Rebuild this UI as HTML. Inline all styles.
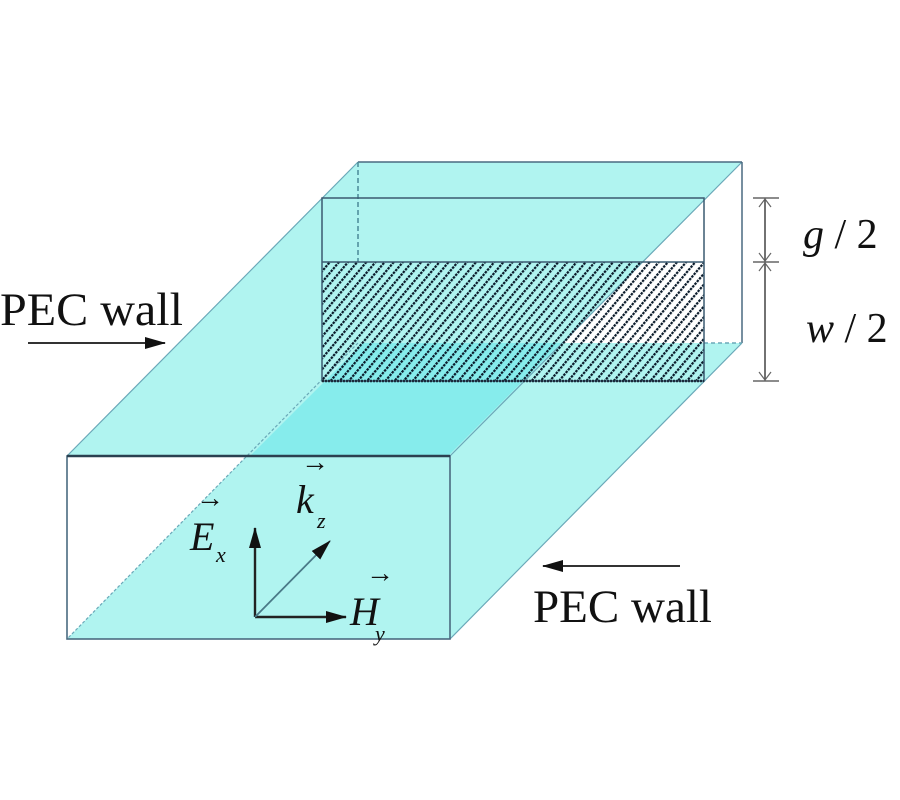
<!DOCTYPE html>
<html><head><style>
html,body{margin:0;padding:0;background:#fff;}
svg{display:block;}
text{font-family:"Liberation Serif",serif;fill:#111;}
</style></head><body>
<svg width="900" height="800" viewBox="0 0 900 800" xmlns="http://www.w3.org/2000/svg">
<defs>
<pattern id="hatch" patternUnits="userSpaceOnUse" width="7" height="7" patternTransform="rotate(40)">
<line x1="1" y1="0" x2="1" y2="7" stroke="#0a1a2a" stroke-width="2.4" stroke-dasharray="2.5 1"/>
</pattern>
<marker id="ah" markerWidth="22" markerHeight="16" refX="20" refY="8" orient="auto" markerUnits="userSpaceOnUse">
<path d="M0,2 L21,8 L0,14 z" fill="#111"/>
</marker>
</defs>
<polygon points="358,162 742,162 450,456 67,456" fill="#b0f4f0"/>
<polygon points="358,343 742,343 450,639 67,639" fill="#b0f4f0"/>
<polygon points="363,343 561,343 448,456 250,456" fill="#86ecec"/>
<line x1="358" y1="162" x2="67" y2="456" stroke="#6aa8b8" stroke-width="1.2"/>
<line x1="742" y1="162" x2="450" y2="456" stroke="#6aa8b8" stroke-width="1.2"/>
<line x1="742" y1="343" x2="450" y2="639" stroke="#6aa8b8" stroke-width="1.2"/>
<line x1="358" y1="343" x2="67" y2="639" stroke="#6aa8b8" stroke-width="1.2" stroke-dasharray="3 2"/>
<line x1="358" y1="162" x2="742" y2="162" stroke="#4a6a80" stroke-width="1.5"/>
<line x1="742" y1="162" x2="742" y2="343" stroke="#4a6a80" stroke-width="1.5"/>
<line x1="704" y1="343" x2="742" y2="343" stroke="#6aa8b8" stroke-width="1.5" stroke-dasharray="4 3"/>
<line x1="358" y1="162" x2="358" y2="262" stroke="#4a8a98" stroke-width="1.5" stroke-dasharray="5 3"/>
<rect x="322" y="262" width="382" height="119" fill="url(#hatch)"/>
<rect x="322" y="198" width="382" height="183" fill="none" stroke="#3a5a70" stroke-width="1.5"/>
<line x1="322" y1="262" x2="704" y2="262" stroke="#3a5a70" stroke-width="1.5"/>
<line x1="322" y1="381" x2="704" y2="381" stroke="#1a2a3a" stroke-width="2.5" stroke-dasharray="2 1"/>
<rect x="67" y="456" width="383" height="183" fill="none" stroke="#4a6a80" stroke-width="1.6"/>
<line x1="67" y1="456" x2="450" y2="456" stroke="#2a4050" stroke-width="2.5"/>
<line x1="765" y1="198" x2="765" y2="381" stroke="#444" stroke-width="1.5"/>
<line x1="753" y1="198" x2="779" y2="198" stroke="#666" stroke-width="1.5"/>
<line x1="753" y1="262" x2="779" y2="262" stroke="#666" stroke-width="1.5"/>
<line x1="753" y1="381" x2="779" y2="381" stroke="#666" stroke-width="1.5"/>
<path d="M759,207 L765,199 L771,207 M759,253 L765,261 L771,253 M759,271 L765,263 L771,271 M759,372 L765,380 L771,372" fill="none" stroke="#666" stroke-width="1.2"/>
<text x="803" y="248" font-size="42"><tspan font-style="italic">g</tspan> / 2</text>
<text x="806" y="342" font-size="42"><tspan font-style="italic">w</tspan> / 2</text>
<text x="0" y="325" font-size="47" textLength="183" lengthAdjust="spacingAndGlyphs">PEC wall</text>
<line x1="28" y1="343" x2="165" y2="343" stroke="#333" stroke-width="2" marker-end="url(#ah)"/>
<text x="533" y="622" font-size="47" textLength="179" lengthAdjust="spacingAndGlyphs">PEC wall</text>
<line x1="680" y1="566" x2="543" y2="566" stroke="#333" stroke-width="2" marker-end="url(#ah)"/>
<line x1="255" y1="617" x2="255" y2="528" stroke="#222" stroke-width="2.4" marker-end="url(#ah)"/>
<line x1="255" y1="617" x2="346" y2="617" stroke="#222" stroke-width="2.4" marker-end="url(#ah)"/>
<line x1="255" y1="617" x2="330" y2="541" stroke="#4a7a88" stroke-width="1.8" marker-end="url(#ah)"/>
<text x="190" y="550" font-size="40" font-style="italic">E</text>
<text x="216" y="562" font-size="22" font-style="italic">x</text>
<text x="196" y="507" font-size="28">→</text>
<text x="296" y="513" font-size="40" font-style="italic">k</text>
<text x="317" y="528" font-size="22" font-style="italic">z</text>
<text x="301" y="471" font-size="28">→</text>
<text x="350" y="625" font-size="40" font-style="italic">H</text>
<text x="375" y="641" font-size="22" font-style="italic">y</text>
<text x="366" y="582" font-size="28">→</text>
</svg>
</body></html>
